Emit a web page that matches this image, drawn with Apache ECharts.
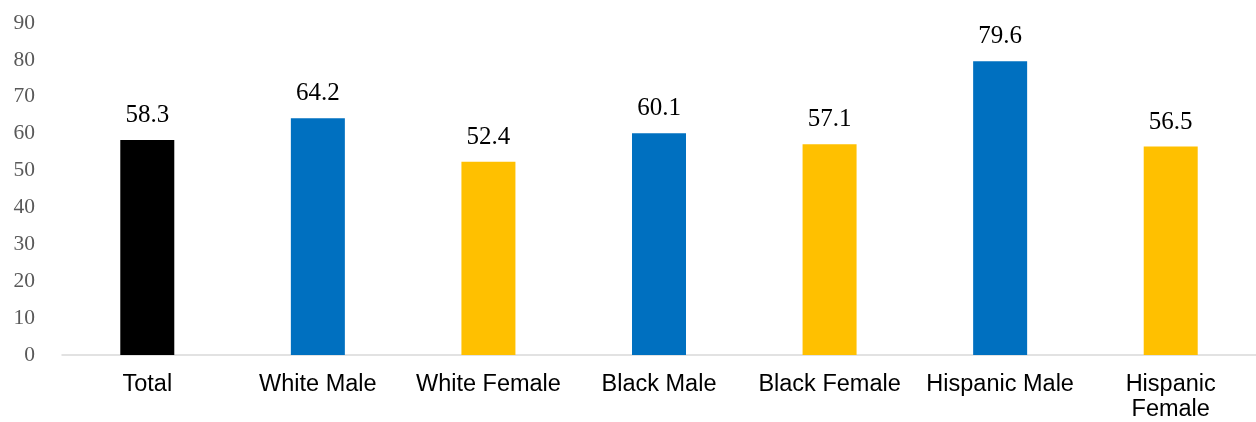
<!DOCTYPE html>
<html>
<head>
<meta charset="utf-8">
<script src="https://cdn.jsdelivr.net/npm/echarts@6/dist/echarts.min.js"></script>
<style>
html,body{margin:0;padding:0;background:#fff;}
#chart{width:1256px;height:422px;}
</style>
</head>
<body>
<div id="chart"></div>
<script>
const categories = ['Total', 'White Male', 'White Female', 'Black Male', 'Black Female', 'Hispanic Male', 'Hispanic\nFemale'];
const values = [58.3, 64.2, 52.4, 60.1, 57.1, 79.6, 56.5];
const barColors = ['#000000', '#0070C0', '#FFC000', '#0070C0', '#FFC000', '#0070C0', '#FFC000'];
const yTicks = { min: 0, max: 90, interval: 10 };

const chart = echarts.init(document.getElementById('chart'));
chart.setOption({
  animation: false,
  grid: { left: 62, right: 0, top: 23, bottom: 67, containLabel: false },
  xAxis: {
    type: 'category',
    data: categories,
    axisLine: { lineStyle: { color: '#D9D9D9', width: 1.5 } },
    axisTick: { show: false },
    axisLabel: {
      interval: 0,
      margin: 17,
      color: '#000000',
      fontFamily: 'Liberation Sans, Arial, sans-serif',
      fontSize: 23.5,
      lineHeight: 25
    }
  },
  yAxis: {
    type: 'value',
    min: yTicks.min,
    max: yTicks.max,
    interval: yTicks.interval,
    splitLine: { show: false },
    axisLine: { show: false },
    axisTick: { show: false },
    axisLabel: {
      margin: 27,
      color: '#595959',
      fontFamily: 'Liberation Serif, serif',
      fontSize: 21.5,
      padding: [0, 0, 6, 0]
    }
  },
  series: [{
    type: 'bar',
    barWidth: 54,
    data: values.map((v, i) => ({ value: v, itemStyle: { color: barColors[i] } })),
    label: {
      show: true,
      position: 'top',
      distance: 12,
      color: '#000000',
      fontFamily: 'Liberation Serif, serif',
      fontSize: 25
    }
  }]
});
</script>
</body>
</html>
